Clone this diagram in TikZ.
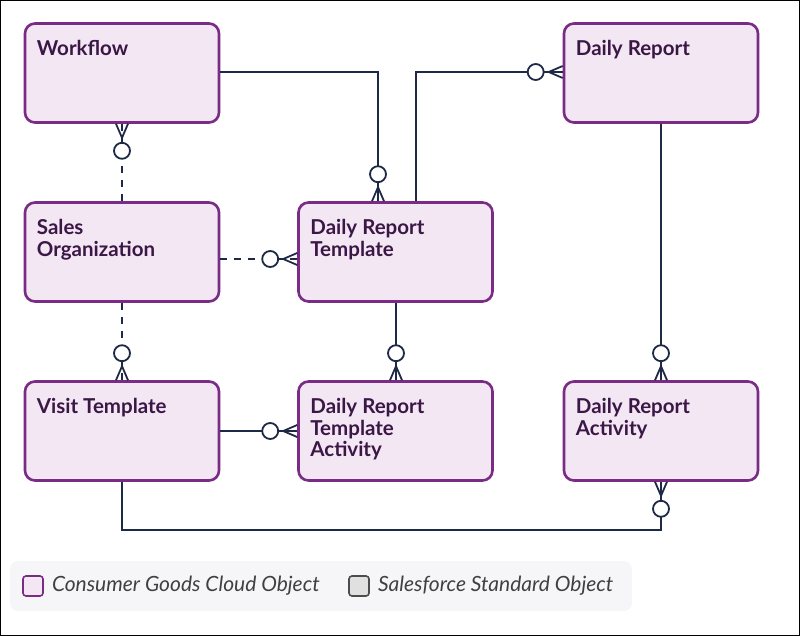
\documentclass[tikz,border=0pt]{standalone}
\usepackage{fontspec}
\setmainfont{Lato}
\usetikzlibrary{positioning}
\definecolor{objfill}{HTML}{F3E7F4}
\definecolor{objline}{HTML}{7A2B86}
\definecolor{objtext}{HTML}{3B1746}
\definecolor{relline}{HTML}{1E2A45}
\definecolor{legfill}{HTML}{F6F6F8}
\tikzset{
  obj/.style={draw=objline, fill=objfill, line width=2.6pt, rounded corners=10pt,
    minimum width=194pt, minimum height=99pt, inner sep=0pt},
  objname/.style={anchor=north west, inner sep=0pt, xshift=13pt, yshift=-18pt,
    align=left, text=objtext, font=\fontsize{20.5}{21.5}\selectfont\bfseries},
  rel/.style={draw=relline, line width=1.8pt},
  opt/.style={rel, dash pattern=on 7pt off 7pt},
  crow/.pic={
    \draw[rel] (0,6) -- (14,0) -- (0,-6);
    \draw[rel, fill=white] (27,0) circle (8);
  },
}
\begin{document}
\begin{tikzpicture}[x=1pt, y=-1pt]
\useasboundingbox (0,0) rectangle (800,636);
\draw[black, line width=1pt] (0.5,0.5) rectangle (799.5,635.5);

% objects
\node[obj, label={[objname]north west:Workflow}] (wf) at (122,73) {};
\node[obj, label={[objname]north west:Daily Report}] (dr) at (661,73) {};
\node[obj, label={[objname]north west:Sales\\Organization}] (so) at (122,252) {};
\node[obj, label={[objname]north west:Daily Report\\Template}] (drt) at (395.5,252) {};
\node[obj, label={[objname]north west:Visit Template}] (vt) at (122,431) {};
\node[obj, label={[objname]north west:Daily Report\\Template\\Activity}] (drta) at (395.5,431) {};
\node[obj, label={[objname]north west:Daily Report\\Activity}] (dra) at (661,431) {};

% relationships
\draw[rel] ([yshift=1pt]wf.east) -| ([xshift=-17.5pt]drt.north);
\draw[rel] ([xshift=20.5pt]drt.north) |- ([yshift=1pt]dr.west);
\draw[opt] (wf.south) -- (so.north);
\draw[opt] ([yshift=-7pt]so.east) -- ([yshift=-7pt]drt.west);
\draw[opt] (so.south) -- (vt.north);
\draw[rel] ([xshift=0.5pt]drt.south) -- ([xshift=0.5pt]drta.north);
\draw[rel] (vt.east) -- (drta.west);
\draw[rel] (dr.south) -- (dra.north);
\draw[rel] (vt.south) -- ++(0,48) -| (dra.south);

\pic[rotate=90] at ([xshift=-17.5pt]drt.north) {crow};
\pic[rotate=180] at ([yshift=1pt]dr.west) {crow};
\pic[rotate=-90] at (wf.south) {crow};
\pic[rotate=180] at ([yshift=-7pt]drt.west) {crow};
\pic[rotate=90] at (vt.north) {crow};
\pic[rotate=90] at ([xshift=0.5pt]drta.north) {crow};
\pic[rotate=180] at (drta.west) {crow};
\pic[rotate=90] at (dra.north) {crow};
\pic[rotate=-90] at (dra.south) {crow};

% legend
\node[fill=legfill, rounded corners=8pt, minimum width=622pt, minimum height=50pt, inner sep=0pt] (leg) at (321,586) {};
\node[draw=objline, fill=objfill, line width=1.6pt, rounded corners=3pt, minimum size=20pt, inner sep=0pt] (legc) at (33,586) {};
\node[right=8pt of legc, inner sep=0pt, text=black!75, font=\fontsize{21}{23}\selectfont\itshape] (legct) {Consumer Goods Cloud Object};
\node[draw=black!70, fill=black!12, line width=1.6pt, rounded corners=3pt, minimum size=20pt, inner sep=0pt] (legs) at (359,586) {};
\node[right=8pt of legs, inner sep=0pt, text=black!75, font=\fontsize{21}{23}\selectfont\itshape] (legst) {Salesforce Standard Object};
\end{tikzpicture}
\end{document}
